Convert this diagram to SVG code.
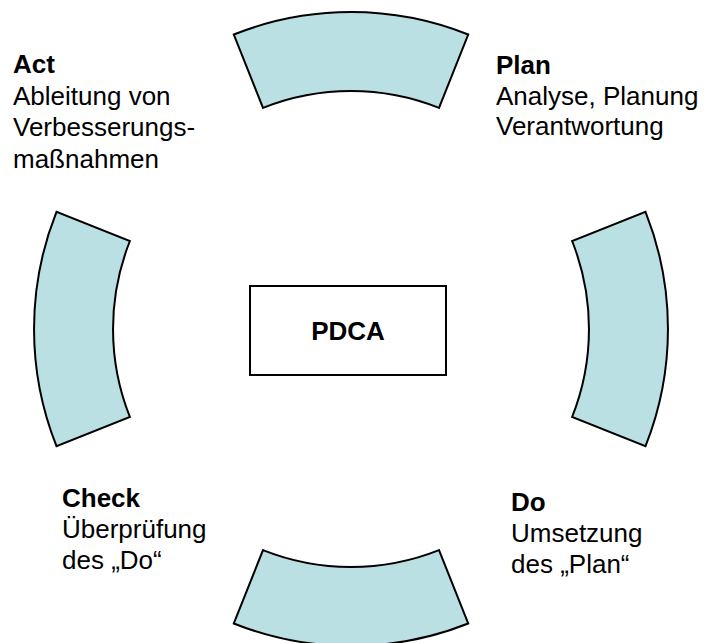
<svg xmlns="http://www.w3.org/2000/svg" width="704" height="643" viewBox="0 0 704 643">
  <style>
    .seg { fill: #BBE0E3; stroke: #000; stroke-width: 2; stroke-linejoin: miter; }
    .box { fill: #fff; stroke: #000; stroke-width: 2; }
    text { font-family: "Liberation Sans", Arial, sans-serif; font-size: 26px; fill: #000; }
    .b { font-weight: bold; }
  </style>
  <rect width="704" height="643" fill="#fff"/>

  <!-- ring segments around centre (351,329), radii 238 / 317 -->
  <g id="seg-top"><path class="seg" d="M233.8,34.5 A317,317 0 0 1 468.2,34.5 L439,107.9 A238,238 0 0 0 263,107.9 Z"/></g>
  <g id="seg-right"><path class="seg" d="M645.5,211.8 A317,317 0 0 1 645.5,446.2 L572.1,417 A238,238 0 0 0 572.1,241 Z"/></g>
  <g id="seg-bottom"><path class="seg" d="M468.2,623.5 A317,317 0 0 1 233.8,623.5 L263,550.1 A238,238 0 0 0 439,550.1 Z"/></g>
  <g id="seg-left"><path class="seg" d="M56.5,446.2 A317,317 0 0 1 56.5,211.8 L129.9,241 A238,238 0 0 0 129.9,417 Z"/></g>

  <!-- centre box -->
  <g id="pdca">
    <rect class="box" x="250" y="286" width="196" height="89"/>
    <text class="b" x="348" y="340" text-anchor="middle">PDCA</text>
  </g>

  <g id="label-act">
    <text class="b" x="13" y="73">Act</text>
    <text x="13" y="104.5">Ableitung von</text>
    <text x="13" y="136">Verbesserungs-</text>
    <text x="13" y="167.5">maßnahmen</text>
  </g>
  <g id="label-plan">
    <text class="b" x="496" y="74">Plan</text>
    <text x="496" y="104.5">Analyse, Planung</text>
    <text x="496" y="135">Verantwortung</text>
  </g>
  <g id="label-check">
    <text class="b" x="62" y="507">Check</text>
    <text x="62" y="538">Überprüfung</text>
    <text x="62" y="569">des „Do“</text>
  </g>
  <g id="label-do">
    <text class="b" x="511" y="510.5">Do</text>
    <text x="511" y="541.5">Umsetzung</text>
    <text x="511" y="572.5">des „Plan“</text>
  </g>
</svg>
